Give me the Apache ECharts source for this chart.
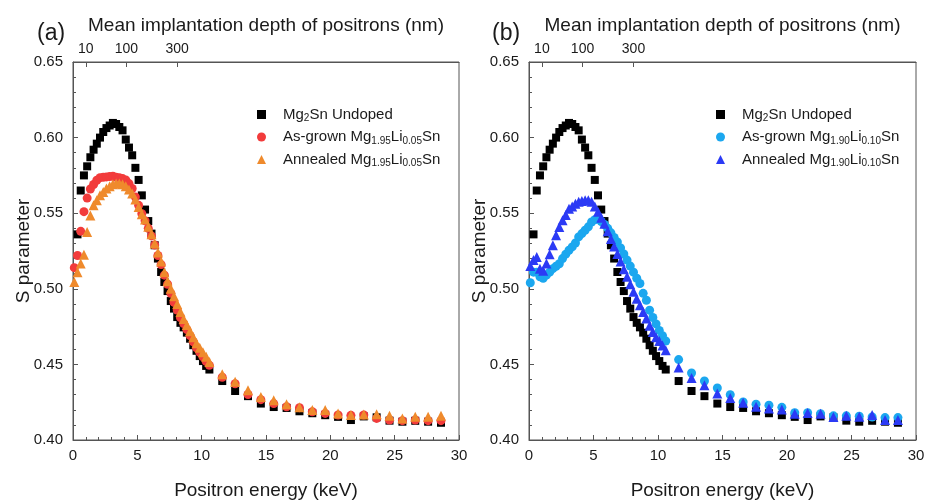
<!DOCTYPE html>
<html>
<head>
<meta charset="utf-8">
<script src="https://cdn.jsdelivr.net/npm/echarts@6/dist/echarts.min.js"></script>
<style>
  html, body { margin: 0; padding: 0; background: #fff; }
  #chart { width: 925px; height: 500px; }
</style>
</head>
<body>
<div id="chart"></div>
<script>
// Energía del positrón (keV) - mismo muestreo para todas las series
const energy = [0.1, 0.35, 0.6, 0.85, 1.1, 1.35, 1.6, 1.85, 2.1, 2.35, 2.6, 2.85, 3.1, 3.35, 3.6, 3.85,
  4.1, 4.35, 4.6, 4.85, 5.1, 5.35, 5.6, 5.85, 6.1, 6.35, 6.6, 6.85, 7.1, 7.35, 7.6, 7.85, 8.1, 8.35,
  8.6, 8.85, 9.1, 9.35, 9.6, 9.85, 10.1, 10.35, 10.6,
  11.6, 12.6, 13.6, 14.6, 15.6, 16.6, 17.6, 18.6, 19.6, 20.6, 21.6, 22.6, 23.6, 24.6, 25.6, 26.6, 27.6, 28.6];

// Mg2Sn sin dopar (aparece en ambos paneles)
const sUndoped = [null, 0.536, 0.565, 0.575, 0.581, 0.587, 0.592, 0.596, 0.600, 0.6037, 0.6063, 0.608, 0.6097,
  0.609, 0.607, 0.6048, 0.5987, 0.5934, 0.5883, 0.580, 0.572, 0.5618, 0.5524, 0.5448, 0.5365, 0.5288, 0.520,
  0.5111, 0.5045, 0.4985, 0.4919, 0.4869, 0.4813, 0.4775, 0.4745, 0.471, 0.467, 0.4627, 0.459, 0.4555,
  0.4522, 0.449, 0.4466,
  0.439, 0.4324, 0.429, 0.4241, 0.4218, 0.4212, 0.419, 0.4177, 0.4164, 0.4153, 0.4132, 0.4156, 0.415,
  0.4128, 0.4121, 0.4127, 0.4121, 0.4114];

// Panel (a): Mg1.95Li0.05Sn
const sAsGrown005 = [0.514, 0.522, 0.538, 0.551, 0.560, 0.566, 0.569, 0.5718, 0.5735, 0.5738, 0.574, 0.5742,
  0.5745, 0.5738, 0.5735, 0.5729, 0.572, 0.5696, 0.5663, 0.5607, 0.5552, 0.5497, 0.545, 0.540, 0.535, 0.529,
  0.522, 0.516, 0.509, 0.503, 0.497, 0.491, 0.486, 0.481, 0.477, 0.473, 0.469, 0.465, 0.461, 0.458, 0.455,
  0.452, 0.4494,
  0.4415, 0.4372, 0.4301, 0.4267, 0.4241, 0.422, 0.4214, 0.4187, 0.4176, 0.4165, 0.4163, 0.4165, 0.4143,
  0.4132, 0.4128, 0.4132, 0.4128, 0.4128];

const sAnnealed005 = [0.5045, 0.511, 0.5167, 0.5225, 0.5375, 0.5485, 0.5552, 0.5585, 0.5618, 0.564, 0.5663,
  0.5678, 0.5691, 0.5696, 0.5696, 0.5691, 0.5678, 0.5656, 0.563, 0.559, 0.5541, 0.5493, 0.5458, 0.541, 0.536,
  0.530, 0.524, 0.518, 0.511, 0.505, 0.500, 0.495, 0.490, 0.4847, 0.480, 0.476, 0.472, 0.468, 0.464, 0.461,
  0.458, 0.455, 0.4516,
  0.4435, 0.4385, 0.4329, 0.4284, 0.4263, 0.4237, 0.4216, 0.4198, 0.4198, 0.4176, 0.4165, 0.4168, 0.417,
  0.416, 0.4143, 0.4154, 0.4154, 0.416];

// Panel (b): Mg1.90Li0.10Sn
const sAsGrown010 = [0.504, 0.511, 0.511, 0.508, 0.507, 0.509, 0.511, 0.5133, 0.5149, 0.5166, 0.520, 0.5229,
  0.5255, 0.5277, 0.5303, 0.5343, 0.5365, 0.5387, 0.541, 0.5442, 0.5457, 0.5465, 0.5445, 0.5425, 0.540, 0.537,
  0.534, 0.531, 0.527, 0.523, 0.519, 0.515, 0.511, 0.507, 0.5035, 0.497, 0.4924, 0.4858, 0.481, 0.4768,
  0.4725, 0.469, 0.4655,
  0.4532, 0.4443, 0.439, 0.4344, 0.43, 0.4251, 0.4237, 0.423, 0.4216, 0.4181, 0.4181, 0.4174, 0.416, 0.416,
  0.4157, 0.4152, 0.4148, 0.4148];

const sAnnealed010 = [0.515, 0.519, 0.521, 0.5133, 0.512, 0.5167, 0.5228, 0.5288, 0.5354, 0.5409, 0.5453,
  0.5488, 0.553, 0.5545, 0.5563, 0.5575, 0.558, 0.5585, 0.5585, 0.5575, 0.5545, 0.551, 0.547, 0.543, 0.538,
  0.533, 0.528, 0.523, 0.518, 0.513, 0.508, 0.503, 0.498, 0.4935, 0.4891, 0.4847, 0.4803, 0.4755, 0.4715,
  0.468, 0.4655, 0.4625, 0.4593,
  0.4479, 0.441, 0.4362, 0.4307, 0.4278, 0.4246, 0.422, 0.4209, 0.4201, 0.4174, 0.4178, 0.4174, 0.4152,
  0.416, 0.4154, 0.4165, 0.4132, 0.4132];

// Eje superior: profundidad media de implantación (nm) y su energía equivalente (keV)
const depthLabels = ['10', '100', '300'];
const depthEnergies = [1.0, 4.15, 8.1];

// Nombres de series y su versión con subíndices
const names = {
  undoped: 'Mg2Sn Undoped',
  asGrownA: 'As-grown Mg1.95Li0.05Sn',
  annealedA: 'Annealed Mg1.95Li0.05Sn',
  asGrownB: 'As-grown Mg1.90Li0.10Sn',
  annealedB: 'Annealed Mg1.90Li0.10Sn'
};
const richNames = {
  'Mg2Sn Undoped': '{g|}{n|Mg}{s|2}{n|Sn Undoped}',
  'As-grown Mg1.95Li0.05Sn': '{g|}{n|As-grown Mg}{s|1.95}{n|Li}{s|0.05}{n|Sn}',
  'Annealed Mg1.95Li0.05Sn': '{g|}{n|Annealed Mg}{s|1.95}{n|Li}{s|0.05}{n|Sn}',
  'As-grown Mg1.90Li0.10Sn': '{g|}{n|As-grown Mg}{s|1.90}{n|Li}{s|0.10}{n|Sn}',
  'Annealed Mg1.90Li0.10Sn': '{g|}{n|Annealed Mg}{s|1.90}{n|Li}{s|0.10}{n|Sn}'
};

const FONT = 'Arial, "Liberation Sans", sans-serif';
const AXIS_COLOR = '#555';
const TEXT_COLOR = '#1a1a1a';

function pairs(values) {
  return energy.map((e, i) => [e, values[i]]).filter(p => p[1] != null);
}

function bottomAxis(grid) {
  return {
    type: 'value', gridIndex: grid, position: 'bottom',
    min: 0, max: 30, interval: 5,
    name: 'Positron energy (keV)', nameLocation: 'middle', nameGap: 41,
    nameTextStyle: { fontSize: 19, color: TEXT_COLOR, fontFamily: FONT },
    axisLine: { show: true, onZero: false, lineStyle: { color: AXIS_COLOR, width: 1 } },
    axisTick: { inside: true, length: 5, lineStyle: { color: AXIS_COLOR } },
    minorTick: { show: true, splitNumber: 5, length: 3, lineStyle: { color: AXIS_COLOR } },
    axisLabel: { fontSize: 15, color: TEXT_COLOR, fontFamily: FONT, margin: 8 },
    splitLine: { show: false }
  };
}

function topAxis(grid) {
  return {
    type: 'value', gridIndex: grid, position: 'top',
    min: 0, max: 30,
    name: 'Mean implantation depth of positrons (nm)', nameLocation: 'middle', nameGap: 27,
    nameTextStyle: { fontSize: 19, color: TEXT_COLOR, fontFamily: FONT },
    axisLine: { show: true, onZero: false, lineStyle: { color: AXIS_COLOR, width: 1 } },
    axisTick: { inside: true, length: 5, customValues: depthEnergies, lineStyle: { color: AXIS_COLOR } },
    axisLabel: {
      fontSize: 14, color: TEXT_COLOR, fontFamily: FONT, margin: 6,
      customValues: depthEnergies,
      formatter: function (v) {
        const idx = depthEnergies.findIndex(e => Math.abs(e - v) < 0.01);
        return idx >= 0 ? depthLabels[idx] : '';
      }
    },
    splitLine: { show: false }
  };
}

function leftAxis(grid) {
  return {
    type: 'value', gridIndex: grid,
    min: 0.40, max: 0.65, interval: 0.05,
    name: 'S parameter', nameLocation: 'middle', nameGap: 40, nameMoveOverlap: false,
    nameTextStyle: { fontSize: 19, color: TEXT_COLOR, fontFamily: FONT },
    axisLine: { show: true, onZero: false, lineStyle: { color: AXIS_COLOR, width: 1 } },
    axisTick: { inside: true, length: 5, lineStyle: { color: AXIS_COLOR } },
    minorTick: { show: true, splitNumber: 5, length: 3, lineStyle: { color: AXIS_COLOR } },
    axisLabel: { fontSize: 15, color: TEXT_COLOR, fontFamily: FONT, margin: 10, formatter: v => v.toFixed(2) },
    splitLine: { show: false }
  };
}

function scatter(name, values, xIdx, yIdx, symbol, size, color) {
  return {
    name: name, type: 'scatter',
    xAxisIndex: xIdx, yAxisIndex: yIdx,
    symbol: symbol, symbolSize: size,
    itemStyle: { color: color, opacity: 1 },
    data: pairs(values)
  };
}

function legend(left, top, data) {
  return {
    orient: 'vertical', left: left, top: top,
    itemWidth: 9, itemHeight: 9, itemGap: 6,
    data: data,
    formatter: name => richNames[name] || name,
    textStyle: {
      fontFamily: FONT, color: TEXT_COLOR,
      rich: {
        g: { width: 12 },
        n: { fontSize: 15, fontFamily: FONT, color: TEXT_COLOR },
        s: { fontSize: 10, fontFamily: FONT, color: TEXT_COLOR, padding: [8, 0, 0, 0] }
      }
    }
  };
}

const chart = echarts.init(document.getElementById('chart'), null, { renderer: 'canvas' });

const option = {
  animation: false,
  backgroundColor: '#fff',
  title: [
    { text: '(a)', left: 32, top: 17, textStyle: { fontSize: 23, fontWeight: 'normal', color: TEXT_COLOR, fontFamily: FONT } },
    { text: '(b)', left: 487, top: 17, textStyle: { fontSize: 23, fontWeight: 'normal', color: TEXT_COLOR, fontFamily: FONT } }
  ],
  grid: [
    { left: 73, top: 62, width: 386, height: 378, outerBoundsMode: 'none', show: true, borderColor: AXIS_COLOR, borderWidth: 1 },
    { left: 529, top: 62, width: 387, height: 378, outerBoundsMode: 'none', show: true, borderColor: AXIS_COLOR, borderWidth: 1 }
  ],
  xAxis: [bottomAxis(0), topAxis(0), bottomAxis(1), topAxis(1)],
  yAxis: [leftAxis(0), leftAxis(1)],
  legend: [
    legend(252, 102, [names.undoped, names.asGrownA, names.annealedA]),
    legend(711, 102, [names.undoped, names.asGrownB, names.annealedB])
  ],
  series: [
    scatter(names.undoped, sUndoped, 0, 0, 'rect', 8, '#000000'),
    scatter(names.asGrownA, sAsGrown005, 0, 0, 'circle', 9, '#F23B3B'),
    scatter(names.annealedA, sAnnealed005, 0, 0, 'triangle', 10, '#EF8A2C'),
    scatter(names.undoped, sUndoped, 2, 1, 'rect', 8, '#000000'),
    scatter(names.asGrownB, sAsGrown010, 2, 1, 'circle', 9, '#1BA7EF'),
    scatter(names.annealedB, sAnnealed010, 2, 1, 'triangle', 10, '#2B3AF5')
  ]
};

chart.setOption(option);
</script>
</body>
</html>
